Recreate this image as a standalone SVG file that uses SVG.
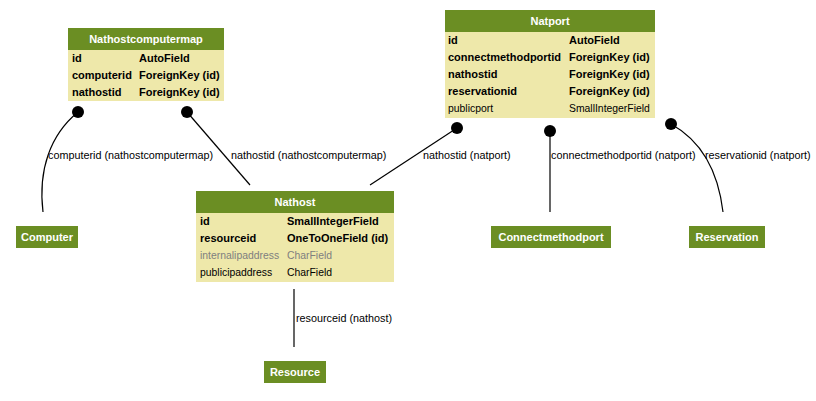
<svg xmlns="http://www.w3.org/2000/svg" width="816" height="401" viewBox="0 0 816 401">
<style>
text{font-family:"Liberation Sans",Arial,sans-serif;font-size:10.4px;fill:#000}
.hd{fill:#6b8e23}
.bd{fill:#eee8aa}
.ht{fill:#fff;font-weight:bold;font-size:11px;text-anchor:middle}
.b{font-weight:bold;font-size:11px}
.g{fill:#7f7f7f}
.e{fill:none;stroke:#000;stroke-width:1.2}
.lb{font-size:10.8px}
</style>
<rect width="816" height="401" fill="#fff"/>
<g id="connectors">
<path class="e" d="M78,112 C50,135 38,170 43,212"/>
<circle cx="78" cy="112" r="6"/>
<text class="lb" x="48" y="159">computerid (nathostcomputermap)</text>
<path class="e" d="M187,112 L250,185"/>
<circle cx="187" cy="112" r="6"/>
<text class="lb" x="231" y="159">nathostid (nathostcomputermap)</text>
<path class="e" d="M457,128 L370,185"/>
<circle cx="457" cy="128" r="6"/>
<text class="lb" x="423" y="159">nathostid (natport)</text>
<path class="e" d="M550,131 L550,212"/>
<circle cx="550" cy="131" r="6"/>
<text class="lb" x="551" y="159">connectmethodportid (natport)</text>
<path class="e" d="M671,124 C700,140 718,170 723,212"/>
<circle cx="671" cy="124" r="6"/>
<text class="lb" x="705" y="159">reservationid (natport)</text>
<path class="e" d="M294,289 L294,347"/>
<text class="lb" x="296" y="322">resourceid (nathost)</text>
</g>
<g id="Nathostcomputermap">
<rect class="hd" x="68" y="28" width="156" height="22"/>
<rect class="bd" x="68" y="50" width="156" height="51"/>
<text class="ht" x="146" y="43">Nathostcomputermap</text>
<text class="b" x="72" y="62">id</text><text class="b" x="139" y="62">AutoField</text>
<text class="b" x="72" y="79">computerid</text><text class="b" x="139" y="79">ForeignKey (id)</text>
<text class="b" x="72" y="96">nathostid</text><text class="b" x="139" y="96">ForeignKey (id)</text>
</g>
<g id="Natport">
<rect class="hd" x="445" y="10" width="210" height="22"/>
<rect class="bd" x="445" y="32" width="210" height="86"/>
<text class="ht" x="550" y="25">Natport</text>
<text class="b" x="448" y="44">id</text><text class="b" x="569" y="44">AutoField</text>
<text class="b" x="448" y="61">connectmethodportid</text><text class="b" x="569" y="61">ForeignKey (id)</text>
<text class="b" x="448" y="78">nathostid</text><text class="b" x="569" y="78">ForeignKey (id)</text>
<text class="b" x="448" y="95">reservationid</text><text class="b" x="569" y="95">ForeignKey (id)</text>
<text x="448" y="112">publicport</text><text x="569" y="112">SmallIntegerField</text>
</g>
<g id="Nathost">
<rect class="hd" x="196" y="191" width="198" height="22"/>
<rect class="bd" x="196" y="213" width="198" height="69"/>
<text class="ht" x="295" y="206">Nathost</text>
<text class="b" x="200" y="225">id</text><text class="b" x="287" y="225">SmallIntegerField</text>
<text class="b" x="200" y="242">resourceid</text><text class="b" x="287" y="242">OneToOneField (id)</text>
<text class="g" x="200" y="259">internalipaddress</text><text class="g" x="287" y="259">CharField</text>
<text x="200" y="276">publicipaddress</text><text x="287" y="276">CharField</text>
</g>
<g id="Computer">
<rect class="hd" x="16" y="226" width="62" height="22"/>
<text class="ht" x="47" y="241">Computer</text>
</g>
<g id="Connectmethodport">
<rect class="hd" x="491" y="226" width="120" height="22"/>
<text class="ht" x="551" y="241">Connectmethodport</text>
</g>
<g id="Reservation">
<rect class="hd" x="689" y="226" width="76" height="22"/>
<text class="ht" x="727" y="241">Reservation</text>
</g>
<g id="Resource">
<rect class="hd" x="264" y="361" width="62" height="22"/>
<text class="ht" x="295" y="376">Resource</text>
</g>
</svg>
